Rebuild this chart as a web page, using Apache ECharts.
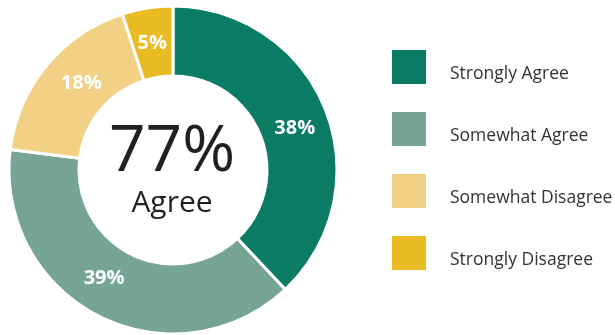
<!DOCTYPE html>
<html>
<head>
<meta charset="utf-8">
<script src="https://cdn.jsdelivr.net/npm/echarts@6/dist/echarts.min.js"></script>
<style>
  html, body { margin: 0; padding: 0; background: #fff; }
  #chart { width: 615px; height: 335px; }
</style>
</head>
<body>
<div id="chart"></div>
<script>
// Survey responses, share of respondents (%)
const categories = ['Strongly Agree', 'Somewhat Agree', 'Somewhat Disagree', 'Strongly Disagree'];
const values = [38, 39, 18, 5];
const colors = ['#0b7c64', '#77a594', '#f2d184', '#e9bc24'];
const centerValue = '77%';
const centerCaption = 'Agree';

// nudges for the in-ring percentage labels
const labelOffsets = [[-1, 7], [-9, -9], [10, -3], [0, 4]];

const chart = echarts.init(document.getElementById('chart'), null, { renderer: 'canvas' });

chart.setOption({
  animation: false,
  color: colors,
  legend: {
    orient: 'vertical',
    left: 390,
    top: 48,
    icon: 'rect',
    itemWidth: 36,
    itemHeight: 36,
    itemGap: 24,
    padding: 0,
    data: categories,
    formatter: '{t|{name}}',
    textStyle: {
      fontFamily: 'Open Sans',
      fontSize: 17.5,
      color: '#333',
      rich: {
        t: {
          fontFamily: 'Open Sans',
          fontSize: 17.5,
          lineHeight: 20,
          color: '#333',
          padding: [14, 0, 0, 18]
        }
      }
    }
  },
  graphic: [
    {
      type: 'text',
      style: {
        text: centerValue,
        x: 172,
        y: 153,
        align: 'center',
        verticalAlign: 'middle',
        font: '400 64px "Open Sans"',
        fill: '#231f20'
      }
    },
    {
      type: 'text',
      style: {
        text: centerCaption,
        x: 172,
        y: 203,
        align: 'center',
        verticalAlign: 'middle',
        font: '400 30px "Open Sans"',
        fill: '#231f20'
      }
    }
  ],
  series: [
    {
      type: 'pie',
      center: [173, 170],
      radius: [94, 164],
      startAngle: 90,
      clockwise: true,
      avoidLabelOverlap: false,
      itemStyle: {
        borderColor: '#fff',
        borderWidth: 3
      },
      label: {
        show: true,
        position: 'inside',
        formatter: '{c}%',
        color: '#fff',
        fontFamily: 'Open Sans',
        fontWeight: 'bold',
        fontSize: 20
      },
      labelLine: { show: false },
      emphasis: { disabled: true },
      data: categories.map((name, i) => ({
        name,
        value: values[i],
        label: { offset: labelOffsets[i] }
      }))
    }
  ]
});
</script>
</body>
</html>
